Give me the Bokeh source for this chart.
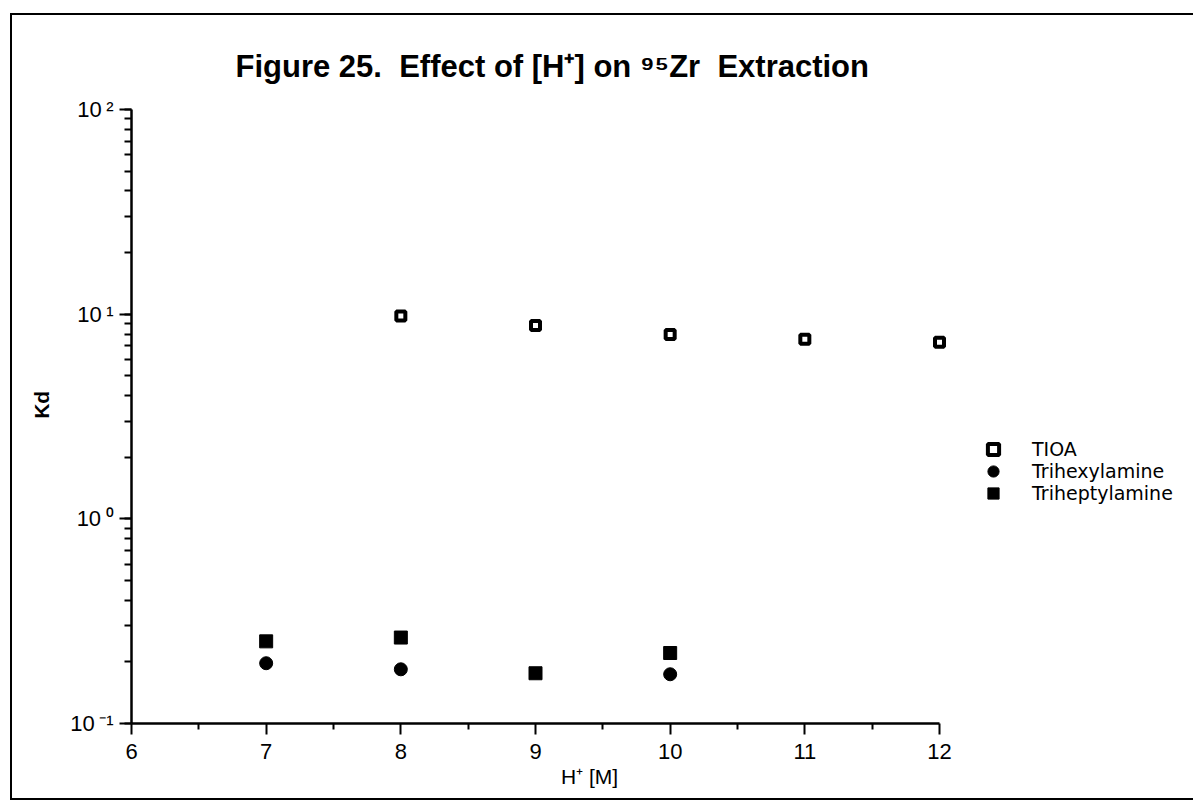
from bokeh.plotting import figure
from bokeh.models import Legend, LegendItem, FixedTicker, LogTicker, CustomJSTickFormatter
from bokeh.embed import file_html
from bokeh.resources import INLINE

# ---- data ----
x_ticks = [6, 7, 8, 9, 10, 11, 12]
tioa_x = [8, 9, 10, 11, 12]
tioa_kd = [9.8, 8.8, 7.95, 7.55, 7.3]
hexyl_x = [7, 8, 10]
hexyl_kd = [0.197, 0.184, 0.174]
heptyl_x = [7, 8, 9, 10]
heptyl_kd = [0.252, 0.263, 0.176, 0.221]
series_names = ["TIOA", "Trihexylamine", "Triheptylamine"]
NB = "\u00a0"
title_text = "Figure 25." + NB * 2 + "Effect of [H\u207a] on \u2079\u2075Zr" + NB * 2 + "Extraction"
x_label = "H\u207a [M]" + NB * 25
y_label = NB * 4 + "Kd"

FONT = "Liberation Sans"

# layout (pixels)
FIG_W, FIG_H = 1181, 783
LEFT, TOP, BOTTOM = 119, 94, 75
AXIS_PX = 808                      # pixel length of the 6..12 axis
frame_w = FIG_W - LEFT
frame_h = FIG_H - TOP - BOTTOM
x_end = x_ticks[0] + (x_ticks[-1] - x_ticks[0]) * frame_w / AXIS_PX

p = figure(
    frame_width=frame_w, frame_height=frame_h,
    x_range=(x_ticks[0], x_end), y_range=(0.1, 100), y_axis_type="log",
    min_border_left=LEFT, min_border_right=0, min_border_top=TOP, min_border_bottom=BOTTOM,
    output_backend="svg", toolbar_location=None,
)
p.margin = (13, 0, 0, 10)
p.styles = {
    "border-left": "2px solid black",
    "border-top": "2px solid black",
    "border-bottom": "2px solid black",
}
p.outline_line_color = None
p.xgrid.visible = False
p.ygrid.visible = False
p.background_fill_color = "white"
p.border_fill_color = "white"

# title
p.title.text = title_text
p.title.align = "left"
p.title.offset = 104
p.title.text_font = FONT
p.title.text_font_size = "31px"
p.title.text_font_style = "bold"
p.title.text_color = "black"
p.title.standoff = 52

# axes
for ax in (p.xaxis[0], p.yaxis[0]):
    ax.axis_line_width = 2.5
    ax.axis_line_color = "black"
    ax.major_tick_line_width = 2
    ax.minor_tick_line_width = 2
    ax.major_tick_in = 0
    ax.minor_tick_in = 0
    ax.major_label_text_font = FONT
    ax.major_label_text_font_size = "22px"
    ax.major_label_text_color = "black"
    ax.axis_label_text_font = FONT
    ax.axis_label_text_color = "black"

xa = p.xaxis[0]
xa.bounds = (x_ticks[0], x_ticks[-1])
xa.ticker = FixedTicker(ticks=x_ticks, minor_ticks=[t + 0.5 for t in x_ticks[:-1]])
xa.major_tick_out = 11
xa.minor_tick_out = 6
xa.major_label_standoff = 9
xa.axis_label = x_label
xa.axis_label_text_font_size = "21px"
xa.axis_label_text_font_style = "normal"
xa.axis_label_standoff = 3

ya = p.yaxis[0]
ya.ticker = LogTicker(num_minor_ticks=10)
ya.major_tick_out = 12
ya.minor_tick_out = 7
ya.major_label_standoff = 6
ya.formatter = CustomJSTickFormatter(code="""
const e = Math.round(Math.log10(tick));
const sup = {'-':'\u207b','0':'\u2070','1':'\u00b9','2':'\u00b2','3':'\u00b3'};
return '10\u2009' + String(e).split('').map(c => sup[c]).join('');
""")
ya.axis_label = y_label
ya.axis_label_text_font_size = "21px"
ya.axis_label_text_font_style = "bold"
ya.axis_label_standoff = 14

# data
r1 = p.scatter(tioa_x, tioa_kd, marker="square", size=9, line_width=4,
               line_color="black", fill_color="white")
r2 = p.scatter(hexyl_x, hexyl_kd, marker="circle", size=13,
               line_color="black", fill_color="black")
r3 = p.scatter(heptyl_x, heptyl_kd, marker="square", size=13,
               line_color="black", fill_color="black")

# legend: one entry per series, stacked rows
GLYPH = 28
row_centers = [449, 471, 493]          # page y of each legend row
frame_bottom_page = 15 + TOP + frame_h
for name, r, yc in zip(series_names, [r1, r2, r3], row_centers):
    lg = Legend(
        items=[LegendItem(label=name, renderers=[r])],
        location=(848, frame_bottom_page - (yc + GLYPH // 2)),
        border_line_color=None,
        background_fill_alpha=0,
        label_text_font="DejaVu Sans",
        label_text_font_size="19px",
        label_text_color="black",
        label_standoff=25,
        glyph_width=GLYPH,
        glyph_height=GLYPH,
        label_height=GLYPH,
        padding=0,
        margin=0,
    )
    p.add_layout(lg, "center")

open("out.html", "w").write(file_html(p, INLINE))
